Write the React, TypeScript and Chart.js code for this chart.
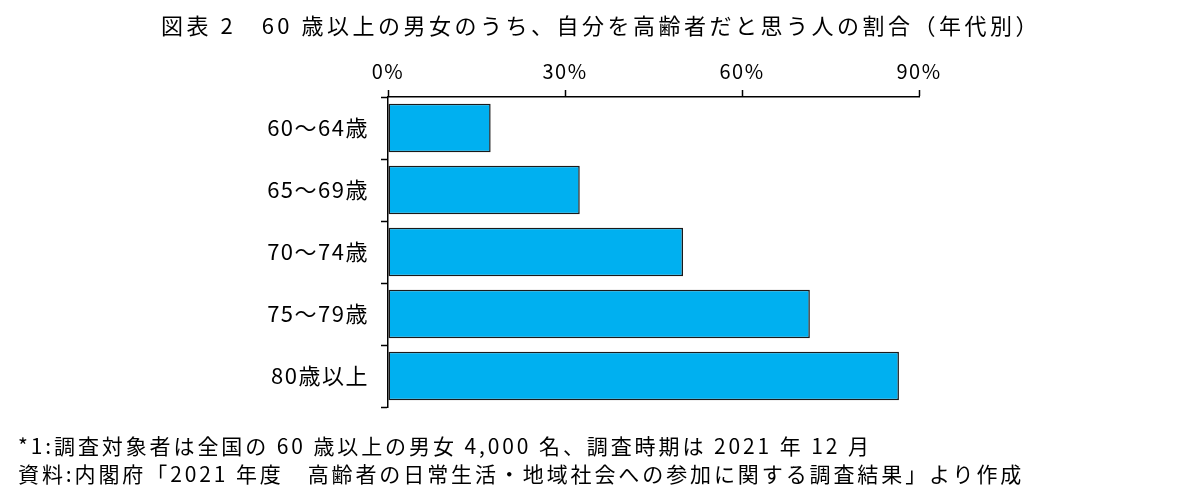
import { useEffect, useRef } from 'react';
import { Chart, registerables } from 'chart.js';

Chart.register(...registerables);

const ageGroups = ['60～64歳', '65～69歳', '70～74歳', '75～79歳', '80歳以上'];
const sharePct = [17.4, 32.5, 50.0, 71.5, 86.6];
const xTicks = [0, 30, 60, 90];

const titleText = '図表 2　60 歳以上の男女のうち、自分を高齢者だと思う人の割合（年代別）';
const noteLines = [
  '*1:調査対象者は全国の 60 歳以上の男女 4,000 名、調査時期は 2021 年 12 月',
  '資料:内閣府「2021 年度　高齢者の日常生活・地域社会への参加に関する調査結果」より作成',
];

const FONT = '"Noto Sans CJK JP", "Noto Sans", sans-serif';

// canvas resets letterSpacing whenever Chart.js resizes it, so set it on every pass
const spacingPlugin = {
  id: 'labelSpacing',
  beforeUpdate: (chart: Chart) => { (chart.ctx as any).letterSpacing = '1.5px'; },
  beforeDraw: (chart: Chart) => { (chart.ctx as any).letterSpacing = '1.5px'; },
};

export default function App() {
  const canvasRef = useRef<HTMLCanvasElement | null>(null);
  const chartRef = useRef<Chart | null>(null);

  useEffect(() => {
    if (!canvasRef.current) return;
    if (chartRef.current) chartRef.current.destroy();

    const ctx = canvasRef.current.getContext('2d');
    if (!ctx) return;

    chartRef.current = new Chart(ctx, {
      type: 'bar',
      data: {
        labels: ageGroups,
        datasets: [{
          data: sharePct,
          backgroundColor: '#00B0F0',
          borderColor: '#1a1a1a',
          borderWidth: 1.5,
          borderSkipped: false,
          barPercentage: 0.78,
          categoryPercentage: 1,
        }],
      },
      plugins: [spacingPlugin],
      options: {
        indexAxis: 'y',
        animation: false,
        responsive: false,
        maintainAspectRatio: false,
        layout: { padding: { top: 0, left: 0, right: 283, bottom: 93 } },
        plugins: {
          legend: { display: false },
          title: { display: false },
          tooltip: { enabled: false },
        },
        scales: {
          x: {
            position: 'top',
            min: 0,
            max: 90,
            afterBuildTicks: (axis) => {
              axis.ticks = xTicks.map(v => ({ value: v }));
            },
            afterFit: (axis) => { axis.height = 97; },
            grid: {
              drawOnChartArea: false,
              drawTicks: true,
              tickLength: 7,
              tickWidth: 1.5,
              tickColor: '#000',
            },
            border: { display: true, color: '#000', width: 1.5 },
            ticks: {
              padding: 7,
              color: '#000',
              font: { family: FONT, size: 20 },
              callback: (v) => `${v}%`,
            },
          },
          y: {
            afterFit: (axis) => { axis.width = 388; },
            grid: {
              drawOnChartArea: false,
              drawTicks: true,
              tickLength: 7,
              tickWidth: 1.5,
              tickColor: '#000',
            },
            border: { display: true, color: '#000', width: 1.5 },
            ticks: {
              padding: 12,
              color: '#000',
              font: { family: FONT, size: 22 },
            },
          },
        },
      },
    });

    return () => {
      if (chartRef.current) {
        chartRef.current.destroy();
        chartRef.current = null;
      }
    };
  }, []);

  return (
    <div style={{ position: 'fixed', left: 0, top: 0, width: 1202, height: 500, background: '#fff', fontFamily: FONT, color: '#000' }}>
      <canvas ref={canvasRef} width={1202} height={500} style={{ position: 'absolute', left: 0, top: 0, width: 1202, height: 500 }} />
      <div style={{ position: 'absolute', left: 0, top: 9, width: 1202, textAlign: 'center', fontSize: 22, letterSpacing: '3.5px', lineHeight: '30px', whiteSpace: 'pre' }}>
        {titleText}
      </div>
      {noteLines.map((t, i) => (
        <div key={i} style={{ position: 'absolute', left: 18, top: 430 + i * 28, fontSize: 21, letterSpacing: '2.9px', lineHeight: '30px', whiteSpace: 'pre' }}>
          {t}
        </div>
      ))}
    </div>
  );
}
